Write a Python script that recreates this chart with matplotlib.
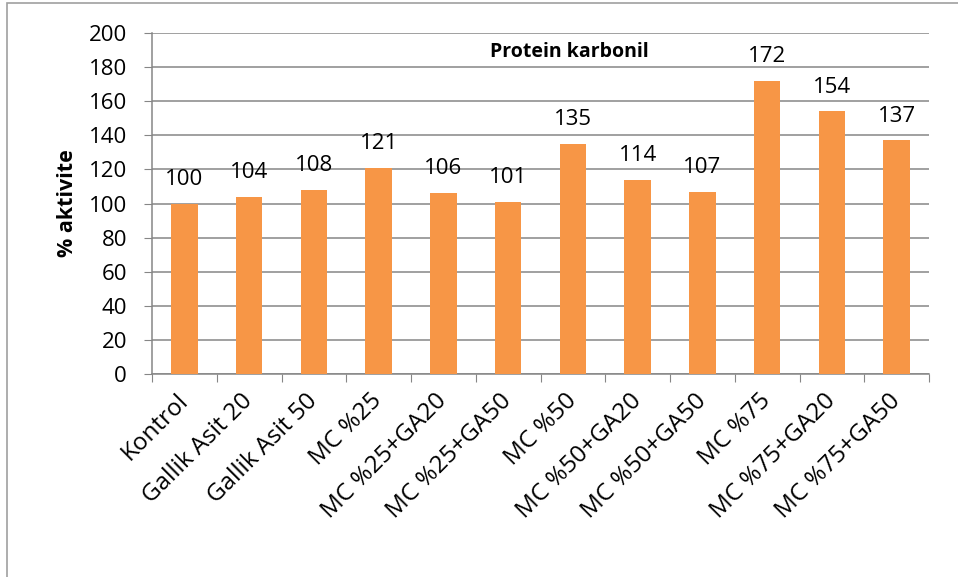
import matplotlib.pyplot as plt
from matplotlib.patches import Rectangle
import numpy as np

plt.rcParams['font.family'] = ['Open Sans', 'DejaVu Sans']

categories = ['Kontrol', 'Gallik Asit 20', 'Gallik Asit 50', 'MC %25', 'MC %25+GA20',
              'MC %25+GA50', 'MC %50', 'MC %50+GA20', 'MC %50+GA50', 'MC %75',
              'MC %75+GA20', 'MC %75+GA50']
values = [100, 104, 108, 121, 106, 101, 135, 114, 107, 172, 154, 137]
yticks = [0, 20, 40, 60, 80, 100, 120, 140, 160, 180, 200]

grid_col = '#868686'
bar_col = '#F79646'

fig = plt.figure(figsize=(9.58, 5.77), dpi=100)
ax = fig.add_axes([152/958, 1 - 374/577, 777/958, 341/577])

# outer chart border (cut off at right/bottom like the reference)
fig.patches.append(Rectangle((7/958, -0.1), 1.2, 1 - 3/577 + 0.1, transform=fig.transFigure,
                             fill=False, edgecolor='#A0A0A0', linewidth=1.2))

x = np.arange(len(categories))
ax.bar(x, values, width=0.41, color=bar_col, zorder=3)
for xi, v in zip(x, values):
    ax.annotate(str(v), (xi, v), xytext=(0, 10), textcoords='offset points',
                ha='center', va='bottom', fontsize=16)

ax.set_xlim(-0.5, len(categories) - 0.5)
ax.set_ylim(0, 200)
ax.set_yticks(yticks)
ax.tick_params(axis='y', labelsize=16, length=6, color=grid_col, pad=12)
ax.yaxis.grid(True, color=grid_col, linewidth=1.1, zorder=0)

ax.set_xticks(np.arange(len(categories) + 1) - 0.5)
ax.set_xticklabels([])
ax.tick_params(axis='x', length=6, color=grid_col)
ax.set_xticks(x, minor=True)
ax.set_xticklabels(categories, minor=True, rotation=45, ha='right', va='center',
                   rotation_mode='anchor', fontsize=17.5)
ax.tick_params(axis='x', which='minor', length=0, pad=17)

for s in ['top', 'right']:
    ax.spines[s].set_visible(False)
ax.spines['left'].set_color(grid_col)
ax.spines['bottom'].set_color(grid_col)
ax.spines['left'].set_linewidth(1.1)
ax.spines['bottom'].set_linewidth(1.1)

ax.set_ylabel('% aktivite', fontsize=15.5, fontweight='bold')
ax.yaxis.set_label_coords(-0.095, 0.5)
ax.text(0.537, 0.944, 'Protein karbonil', transform=ax.transAxes, ha='center', va='center',
        fontsize=14, fontweight='bold')

fig.savefig('out.png', dpi=100)
